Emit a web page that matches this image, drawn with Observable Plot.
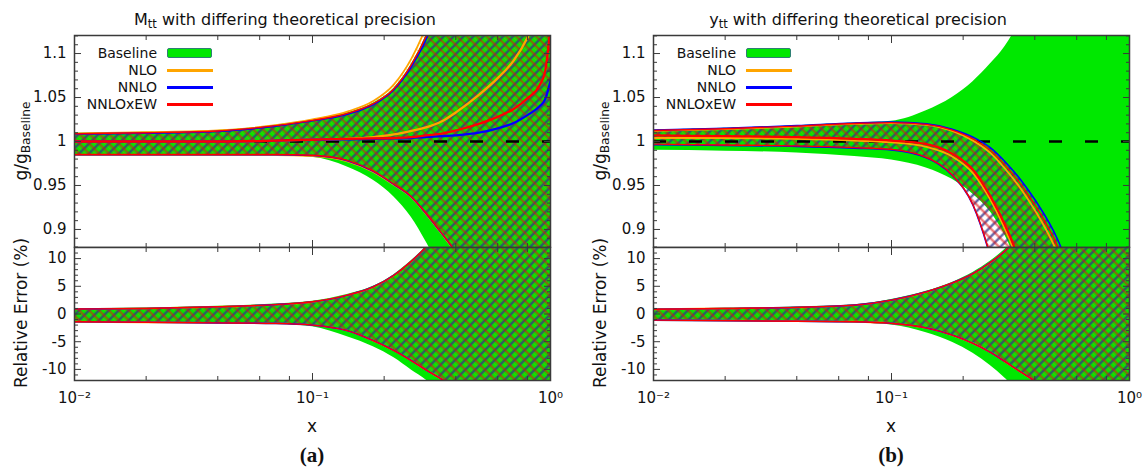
<!DOCTYPE html>
<html><head><meta charset="utf-8">
<script src="https://cdn.jsdelivr.net/npm/d3@7"></script>
<script src="https://cdn.jsdelivr.net/npm/@observablehq/plot@0.6"></script>
<style>
body{margin:0;background:#fff;}
#root{position:relative;width:1143px;height:467px;overflow:hidden;font-family:"DejaVu Sans",sans-serif;color:#111;}
.abs{position:absolute;white-space:nowrap;}
.panel svg{display:block;}
.ttl{font-size:16px;transform:translateX(-50%);}
.ylab{font-size:17px;line-height:1;transform:translate(-50%,-50%) rotate(-90deg);}
.xlab{font-size:17px;line-height:1;transform:translate(-50%,-50%);}
.cap{font-family:"Liberation Serif",serif;font-weight:bold;font-size:21px;line-height:1;transform:translate(-50%,-50%);}
sub{font-size:0.72em;vertical-align:-0.3em;line-height:0;}
.lg{font-size:14px;line-height:18px;text-align:right;width:110px;}
</style></head><body>
<svg width="0" height="0" style="position:absolute">
<defs>
<pattern id="hatchNNLO" patternUnits="userSpaceOnUse" width="7" height="7" patternTransform="rotate(45)">
<line x1="3.5" y1="-1" x2="3.5" y2="8" stroke="#30308a" stroke-width="2.2" stroke-opacity="0.8"/></pattern>
<pattern id="hatchEW" patternUnits="userSpaceOnUse" width="7" height="7" patternTransform="rotate(-45)">
<line x1="3.5" y1="-1" x2="3.5" y2="8" stroke="#e01010" stroke-width="2.2" stroke-opacity="0.6"/></pattern>
<pattern id="hatchNLO" patternUnits="userSpaceOnUse" width="7" height="7" patternTransform="rotate(-45)">
<line x1="0.5" y1="-1" x2="0.5" y2="8" stroke="#c08000" stroke-width="1.2" stroke-opacity="0.35"/></pattern>
</defs></svg>
<div id="root"></div>
<script>
// ---------- data ----------
const X = [0.01,0.02,0.04,0.07,0.1,0.14,0.18,0.22,0.26,0.3,0.35,0.4,0.5,0.6,0.7,0.8,0.9,0.95,1.0];
const xMajor = [0.01, 0.1, 1];
const xMinor = [0.02,0.04,0.06,0.08,0.2,0.4,0.6,0.8];
const xTickLabels = ["10\u207B\u00B2","10\u207B\u00B9","10\u2070"];
const ratioMajor = [0.9,0.95,1,1.05,1.1];
const ratioMinor = [0.88,0.89,0.91,0.92,0.93,0.94,0.96,0.97,0.98,0.99,1.01,1.02,1.03,1.04,1.06,1.07,1.08,1.09,1.11,1.12];
const errMajor = [-10,-5,0,5,10];
const errMinor = [-12,-11,-9,-8,-7,-6,-4,-3,-2,-1,1,2,3,4,6,7,8,9,11,12];
const legendNames = ["Baseline","NLO","NNLO","NNLOxEW"];

// (a) Mtt : g/g_Baseline
const mttBaseHi = [1.0095,1.0105,1.0125,1.0185,1.0245,1.0325,1.0435,1.0605,1.0875,1.1205,1.17,1.23,1.35,1.5,1.7,1.9,2.1,2.2,2.3];
const mttBaseLo = [0.985,0.985,0.985,0.984,0.982,0.971,0.956,0.937,0.914,0.886,0.85,0.81,0.74,0.66,0.58,0.5,0.42,0.38,0.34];
const mttNloHi  = [1.009,1.0105,1.0125,1.0185,1.025,1.034,1.046,1.065,1.094,1.13,1.18,1.24,1.36,1.5,1.7,1.9,2.1,2.2,2.3];
const mttNloLo  = [0.9845,0.9845,0.9845,0.9845,0.9835,0.9775,0.9655,0.9505,0.9365,0.9175,0.8945,0.8735,0.83,0.78,0.72,0.66,0.6,0.57,0.54];
const mttNnloHi = [1.0085,1.0095,1.0115,1.0175,1.0235,1.031,1.042,1.059,1.085,1.116,1.165,1.22,1.34,1.48,1.68,1.88,2.08,2.18,2.28];
const mttNnloLo = [0.985,0.985,0.985,0.985,0.984,0.978,0.966,0.951,0.937,0.918,0.895,0.874,0.83,0.78,0.72,0.66,0.6,0.57,0.54];
const mttEwHi   = [1.0088,1.01,1.012,1.018,1.024,1.032,1.043,1.06,1.087,1.12,1.17,1.23,1.35,1.49,1.69,1.89,2.09,2.19,2.29];
const mttEwLo   = [0.9853,0.9853,0.9853,0.9853,0.9843,0.9785,0.9665,0.9515,0.9375,0.9185,0.8955,0.8745,0.83,0.78,0.72,0.66,0.6,0.57,0.54];
const mttNloC   = [1.0,1.0,1.0,1.001,1.002,1.003,1.005,1.008,1.012,1.016,1.023,1.033,1.053,1.072,1.092,1.118,1.15,1.17,1.19];
const mttNnloC  = [1.0,1.0,1.0,1.001,1.002,1.0025,1.003,1.0035,1.004,1.005,1.006,1.007,1.010,1.015,1.021,1.030,1.040,1.048,1.069];
const mttEwC    = [1.0,1.0,1.0,1.001,1.002,1.003,1.0035,1.004,1.005,1.007,1.009,1.0125,1.02,1.028,1.037,1.049,1.064,1.08,1.13];

// (a) Mtt : relative error (%)
const mttErrBaseHi = [1.0,1.1,1.4,1.8,2.3,3.5,5.0,7.1,9.6,12.2,16,20,29.5,39.5,49.5,59.5,69.5,74.5,79.5];
const mttErrBaseLo = [-1.4,-1.5,-1.6,-1.8,-2.3,-4.1,-5.9,-7.9,-10.1,-11.9,-14.5,-17,-22,-27,-32,-37,-42,-44,-46];
const mttErrHi = [0.9,1.0,1.3,1.7,2.2,3.4,4.9,7.0,9.5,12.1,15.8,19.8,29,39,49,59,69,74,79];
const mttErrLo = [-1.4,-1.5,-1.6,-1.7,-2.0,-3.0,-4.8,-6.6,-8.4,-10.1,-11.8,-13.5,-17,-21,-25,-29,-33,-35,-37];

// (b) ytt : g/g_Baseline
const yttBaseHi = [1.013,1.015,1.018,1.021,1.023,1.035,1.050,1.068,1.088,1.108,1.14,1.18,1.27,1.37,1.48,1.6,1.72,1.78,1.85];
const yttBaseLo = [0.990,0.989,0.987,0.983,0.979,0.970,0.957,0.940,0.920,0.893,0.85,0.80,0.70,0.60,0.50,0.40,0.30,0.25,0.20];
const yttNloHi  = [1.012,1.014,1.017,1.020,1.021,1.019,1.012,1.001,0.987,0.969,0.946,0.922,0.872,0.81,0.75,0.69,0.63,0.60,0.57];
const yttNloLo  = [1.004,1.004,1.003,1.001,0.999,0.994,0.983,0.964,0.934,0.900,0.855,0.805,0.70,0.60,0.50,0.40,0.30,0.25,0.20];
const yttNnloHi = [1.013,1.015,1.018,1.021,1.022,1.020,1.014,1.005,0.993,0.977,0.956,0.934,0.888,0.83,0.77,0.71,0.65,0.62,0.59];
const yttNnloLo = [0.9965,0.9955,0.9945,0.9925,0.9905,0.9815,0.9615,0.9275,0.869,0.80,0.72,0.64,0.50,0.40,0.30,0.20,0.10,0.05,0.0];
const yttEwHi   = [1.0125,1.0145,1.0175,1.0205,1.0215,1.0195,1.013,1.003,0.990,0.973,0.951,0.928,0.880,0.82,0.76,0.70,0.64,0.61,0.58];
const yttEwLo   = [0.997,0.996,0.995,0.993,0.991,0.982,0.962,0.928,0.87,0.80,0.72,0.64,0.50,0.40,0.30,0.20,0.10,0.05,0.0];
const yttEwC    = [1.007,1.006,1.005,1.003,1.001,0.997,0.986,0.968,0.938,0.905,0.86,0.81,0.70,0.60,0.50,0.40,0.30,0.25,0.20];

// (b) ytt : relative error (%)
const yttErrBaseHi = [0.9,1.05,1.25,1.65,2.6,4.1,5.7,7.5,9.5,11.7,14.8,18.3,26.5,34.5,42.5,50.5,58.5,62.5,66.5];
const yttErrBaseLo = [-1.2,-1.3,-1.4,-1.6,-2.0,-3.4,-5.1,-7.1,-9.3,-11.6,-14.5,-17.5,-23,-28,-33,-38,-43,-45,-47];
const yttErrHi = [0.85,1.0,1.2,1.6,2.5,4.0,5.6,7.3,9.3,11.4,14.5,18,26,34,42,50,58,62,66];
const yttErrLo = [-1.1,-1.2,-1.3,-1.4,-1.7,-2.5,-3.8,-5.3,-6.9,-8.6,-10.5,-12.1,-15.5,-19,-22.5,-26,-29.5,-31,-33];

// ---------- styles ----------
const COL = {base:"#00e800", nlo:"#ffa500", nnlo:"#0000ff", ew:"#ff0000", frame:"#3a3a3a"};
const curve = "monotone-x";

function rows(cols) {
  return X.map((x, i) => { const r = {x}; for (const k in cols) r[k] = cols[k][i]; return r; });
}

function bandMarks(d, withCentral) {
  const m = [
    Plot.areaY(d, {x:"x", y1:"bLo", y2:"bHi", fill:COL.base, curve, clip:true}),
    Plot.areaY(d, {x:"x", y1:"nLo", y2:"nHi", fill:"url(#hatchNLO)", curve, clip:true}),
    Plot.areaY(d, {x:"x", y1:"nnLo", y2:"nnHi", fill:"url(#hatchNNLO)", curve, clip:true}),
    Plot.areaY(d, {x:"x", y1:"eLo", y2:"eHi", fill:"url(#hatchEW)", curve, clip:true})
  ];
  if (withCentral) m.push(Plot.ruleY([1], {stroke:"#000", strokeWidth:2.6, strokeDasharray:"13,23", clip:true}));
  const edges = [["nHi",COL.nlo,1.8],["nLo",COL.nlo,1.8],["nnHi",COL.nnlo,1.6],["nnLo",COL.nnlo,1.6],["eHi",COL.ew,1.4],["eLo",COL.ew,1.4]];
  for (const [k,c,w] of edges) m.push(Plot.lineY(d, {x:"x", y:k, stroke:c, strokeWidth:w, curve, clip:true}));
  return m;
}

function makePlot({w, h, mt, mb, ml, mr, yDomain, yMajor, yMinor, marks, xText}) {
  const ax = [];
  for (const a of ["left","right"]) {
    ax.push(Plot.axisY({anchor:a, ticks:yMajor, tickSize:-7, fill:"none", stroke:COL.frame, label:null}));
    ax.push(Plot.axisY({anchor:a, ticks:yMinor, tickSize:-4, fill:"none", stroke:COL.frame, label:null}));
  }
  for (const a of ["top","bottom"]) {
    ax.push(Plot.axisX({anchor:a, ticks:xMajor, tickSize:-7, fill:"none", stroke:COL.frame, label:null}));
    ax.push(Plot.axisX({anchor:a, ticks:xMinor, tickSize:-4, fill:"none", stroke:COL.frame, label:null}));
  }
  ax.push(Plot.axisY({anchor:"left", ticks:yMajor, tickSize:0, tickPadding:8, tickFormat:d => String(d), label:null, fill:"#111"}));
  if (xText) ax.push(Plot.axisX({anchor:"bottom", ticks:xMajor, tickSize:0, tickPadding:12, tickFormat:d => xTickLabels[xMajor.indexOf(d)], label:null, fill:"#111"}));
  return Plot.plot({
    width:w, height:h, marginTop:mt, marginBottom:mb, marginLeft:ml, marginRight:mr,
    x:{type:"log", domain:[0.01,1]},
    y:{domain:yDomain},
    style:{fontFamily:"'DejaVu Sans', sans-serif", fontSize:"15px", background:"transparent", color:"#111"},
    marks:[...marks, ...ax, Plot.frame({stroke:COL.frame, strokeWidth:1.5})]
  });
}

const root = document.getElementById("root");
function place(el, left, top, w) {
  const div = document.createElement("div");
  div.className = "abs panel";
  div.style.left = left + "px"; div.style.top = top + "px"; div.style.width = w + "px";
  div.appendChild(el); root.appendChild(div);
}
function html(cls, left, top, content, extra) {
  const d = document.createElement("div");
  d.className = "abs " + cls;
  d.style.left = left + "px"; d.style.top = top + "px";
  d.innerHTML = content;
  if (extra) Object.assign(d.style, extra);
  root.appendChild(d);
  return d;
}

const dMttR = rows({bHi:mttBaseHi,bLo:mttBaseLo,nHi:mttNloHi,nLo:mttNloLo,nnHi:mttNnloHi,nnLo:mttNnloLo,eHi:mttEwHi,eLo:mttEwLo,nC:mttNloC,nnC:mttNnloC,eC:mttEwC});
const dMttE = rows({bHi:mttErrBaseHi,bLo:mttErrBaseLo,nHi:mttErrHi,nLo:mttErrLo,nnHi:mttErrHi,nnLo:mttErrLo,eHi:mttErrHi,eLo:mttErrLo});
const dYttR = rows({bHi:yttBaseHi,bLo:yttBaseLo,nHi:yttNloHi,nLo:yttNloLo,nnHi:yttNnloHi,nnLo:yttNnloLo,eHi:yttEwHi,eLo:yttEwLo,eC:yttEwC});
const dYttE = rows({bHi:yttErrBaseHi,bLo:yttErrBaseLo,nHi:yttErrHi,nLo:yttErrLo,nnHi:yttErrHi,nnLo:yttErrLo,eHi:yttErrHi,eLo:yttErrLo});

const ratioDomain = [0.8795, 1.1205];
const errDomain = [-12, 12];

const mttRatioMarks = [...bandMarks(dMttR, true),
  Plot.lineY(dMttR, {x:"x", y:"nC", stroke:COL.nlo, strokeWidth:2.3, curve, clip:true}),
  Plot.lineY(dMttR, {x:"x", y:"nnC", stroke:COL.nnlo, strokeWidth:2.3, curve, clip:true}),
  Plot.lineY(dMttR, {x:"x", y:"eC", stroke:COL.ew, strokeWidth:2.3, curve, clip:true})];
const yttRatioMarks = [...bandMarks(dYttR, true),
  Plot.lineY(dYttR, {x:"x", y:"eC", stroke:COL.ew, strokeWidth:2.3, curve, clip:true})];

const panels = [
  {left:0, w:570, mr:20, ratio:mttRatioMarks, err:bandMarks(dMttE, false)},
  {left:579, w:564, mr:14, ratio:yttRatioMarks, err:bandMarks(dYttE, false)}
];
for (const p of panels) {
  place(makePlot({w:p.w, h:248, mt:35, mb:1, ml:74, mr:p.mr, yDomain:ratioDomain, yMajor:ratioMajor, yMinor:ratioMinor, marks:p.ratio}), p.left, 0, p.w);
  place(makePlot({w:p.w, h:221, mt:1, mb:87, ml:74, mr:p.mr, yDomain:errDomain, yMajor:errMajor, yMinor:errMinor, marks:p.err, xText:true}), p.left, 246, p.w);
}

// ---------- text ----------
const titles = ["M<sub>tt</sub> with differing theoretical precision", "y<sub>tt</sub> with differing theoretical precision"];
const caps = ["(a)", "(b)"];
[0, 579].forEach((off, i) => {
  html("ttl", 285 + off - (i ? 6 : 0), 10, titles[i]);
  html("ylab", 21 + off, 141, "g/g<sub>Baseline</sub>");
  html("ylab", 21 + off, 313, "Relative Error (%)");
  html("xlab", 312 + off, 426, "x");
  html("cap", 312 + off, 455, caps[i]);
  // legend
  const ys = [53, 70, 87, 104];
  const cols = [COL.base, COL.nlo, COL.nnlo, COL.ew];
  legendNames.forEach((name, j) => {
    html("lg", 47 + off, ys[j] - 9, name);
    if (j === 0) {
      html("", 167 + off, ys[j] - 5, "", {width:"43px", height:"8px", background:COL.base, border:"1.5px solid #2f7f74", borderRadius:"2px"});
    } else {
      html("", 167 + off, ys[j] - 1.5, "", {width:"46px", height:"3px", background:cols[j]});
    }
  });
});
</script>
</body></html>
